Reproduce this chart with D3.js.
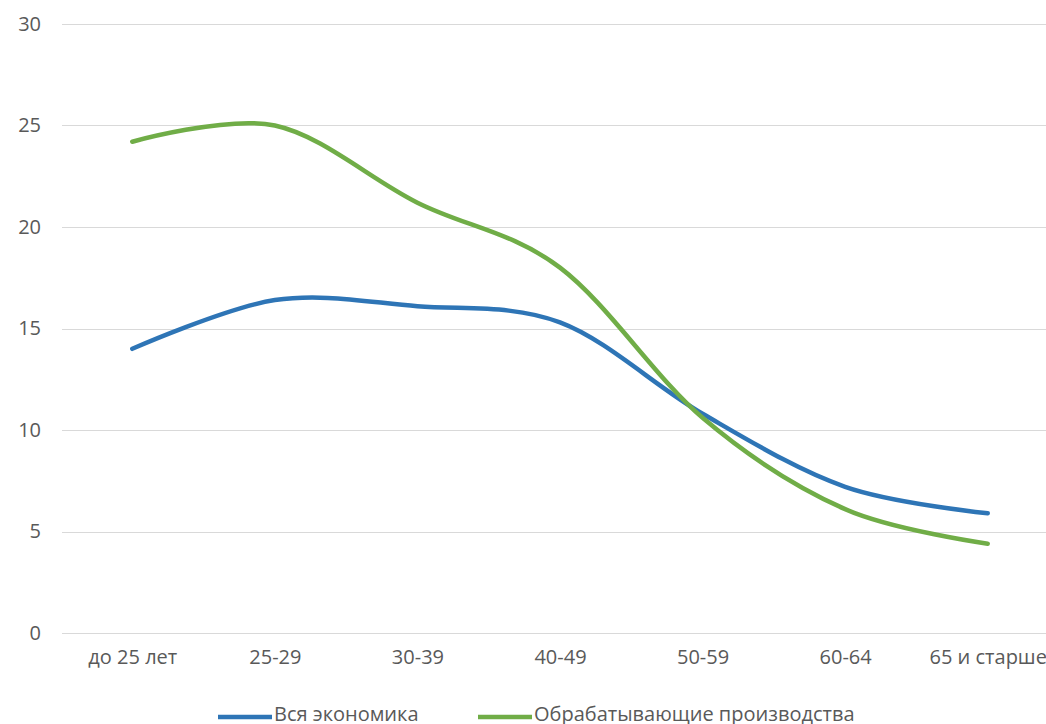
<!DOCTYPE html>
<html>
<head>
<meta charset="utf-8">
<script src="https://cdn.jsdelivr.net/npm/d3@7"></script>
<style>
  html, body { margin: 0; padding: 0; background: #fff; overflow: hidden; }
  svg { display: block; }
  text { font-family: "Open Sans", "DejaVu Sans", sans-serif; fill: #595959; }
</style>
</head>
<body>
<svg id="chart" width="1046" height="724"></svg>
<script>
// Age groups along the x axis
const categories = ["до 25 лет", "25-29", "30-39", "40-49", "50-59", "60-64", "65 и старше"];
// Share by age group, %
const economyValues = [14.0, 16.4, 16.1, 15.3, 10.8, 7.2, 5.9];
const manufacturingValues = [24.2, 25.0, 21.2, 18.0, 10.6, 6.1, 4.4];
const yTicks = [0, 5, 10, 15, 20, 25, 30];
const seriesNames = ["Вся экономика", "Обрабатывающие производства"];
const seriesColors = ["#2E75B6", "#70AD47"];

const FONT = "'Open Sans', 'DejaVu Sans', sans-serif";
const svg = d3.select("#chart");

const x = d3.scalePoint().domain(categories).range([61, 1059]).padding(0.5);
const y = d3.scaleLinear().domain([0, 30]).range([633, 24]);

// Horizontal gridlines
svg.append("g")
  .selectAll("line")
  .data(yTicks)
  .join("line")
  .attr("x1", 62).attr("x2", 1046)
  .attr("y1", d => Math.round(y(d)) + 0.5)
  .attr("y2", d => Math.round(y(d)) + 0.5)
  .attr("stroke", "#d9d9d9")
  .attr("stroke-width", 1);

// Y axis labels
const yAxis = d3.axisLeft(y).tickValues(yTicks).tickSize(0).tickPadding(0);
svg.append("g")
  .attr("transform", "translate(41,0)")
  .call(yAxis)
  .call(g => g.select(".domain").remove())
  .call(g => g.selectAll("text")
    .attr("font-size", 20)
    .attr("fill", "#595959")
    .style("font-family", FONT));

// X axis labels
const xAxis = d3.axisBottom(x).tickSize(0).tickPadding(0);
svg.append("g")
  .attr("transform", "translate(0,650)")
  .call(xAxis)
  .call(g => g.select(".domain").remove())
  .call(g => g.selectAll("text")
    .attr("font-size", 20)
    .attr("fill", "#595959")
    .style("font-family", FONT));

// Smoothed series lines
const line = d3.line()
  .x((d, i) => x(categories[i]))
  .y(d => y(d))
  .curve(d3.curveCardinal.tension(0));

[economyValues, manufacturingValues].forEach((vals, i) => {
  svg.append("path")
    .datum(vals)
    .attr("d", line)
    .attr("fill", "none")
    .attr("stroke", seriesColors[i])
    .attr("stroke-width", 4.5)
    .attr("stroke-linecap", "round")
    .attr("stroke-linejoin", "round");
});

// Legend
const legendItems = [
  { name: seriesNames[0], color: seriesColors[0], x: 218 },
  { name: seriesNames[1], color: seriesColors[1], x: 478 }
];
const lg = svg.append("g");
legendItems.forEach(it => {
  lg.append("line")
    .attr("x1", it.x).attr("x2", it.x + 54)
    .attr("y1", 717).attr("y2", 717)
    .attr("stroke", it.color)
    .attr("stroke-width", 4.5);
  lg.append("text")
    .attr("x", it.x + 56)
    .attr("y", 721)
    .attr("font-size", 20)
    .text(it.name);
});
</script>
</body>
</html>
